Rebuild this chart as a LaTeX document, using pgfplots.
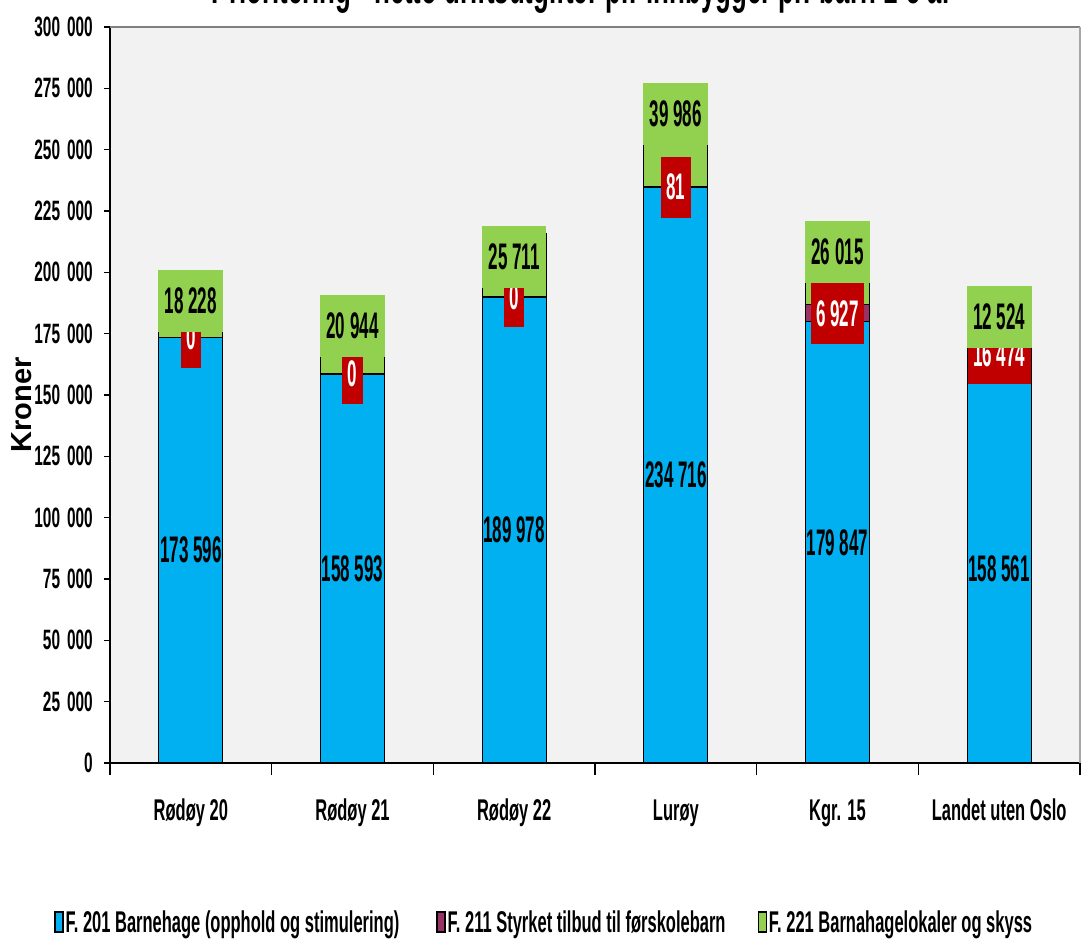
\documentclass[border=0pt]{standalone}
\usepackage{fontspec}
\usepackage{pgfplots}
\usepackage{pgfplotstable}
\pgfplotsset{compat=1.18}
\setmainfont{Liberation Sans}
\newfontfamily\condfont[FakeStretch=0.55]{Liberation Sans}
\newfontfamily\labfont[FakeStretch=0.46]{Liberation Sans}
\definecolor{cblue}{HTML}{00B0F0}
\definecolor{cpurp}{HTML}{993366}
\definecolor{cgreen}{HTML}{92D050}
\definecolor{cred}{HTML}{C00000}
\definecolor{bgc}{HTML}{F2F2F2}
\tikzset{
  bluelab/.style={font=\fontsize{37bp}{38bp}\labfont\bfseries, inner sep=0pt},
  redlab/.style={font=\fontsize{37bp}{38bp}\labfont\bfseries, text=white, fill=cred, inner xsep=5.5bp, inner ysep=0pt, minimum height=61bp},
  greenlab/.style={font=\fontsize{37bp}{38bp}\labfont\bfseries, text=black, fill=cgreen, inner xsep=6.5bp, inner ysep=0pt, minimum height=62bp},
}
\pgfplotsset{
  boxlegend/.style={legend image code/.code={\draw[##1, draw=black, line width=1.4bp] (0bp,-10bp) rectangle (8bp,10bp);}},
}
\pgfplotstableread{
x blue purple green
0 173596 0 18228
1 158593 0 20944
2 189978 0 25711
3 234716 81 39986
4 179847 6927 26015
5 158561 16474 12524
}\datatable
\begin{document}
\begin{tikzpicture}
\useasboundingbox (0,0) rectangle (1088bp,945bp);
\node[anchor=base, font=\fontsize{47bp}{48bp}\condfont\bfseries] at (582bp,941bp) {Prioritering - netto driftsutgifter pr. innbygger pr. barn 1-5 år};
\begin{axis}[
  at={(110bp,182bp)}, anchor=south west,
  scale only axis, width=970bp, height=736bp,
  ybar stacked, bar width=64bp,
  xmin=-0.5, xmax=5.5, ymin=0, ymax=300000,
  clip=false,
  scaled y ticks=false,
  axis background/.style={fill=bgc},
  axis x line*=bottom, axis y line*=left,
  axis line style={black, line width=1.6bp},
  tick align=outside,
  major tick length=6bp,
  tick style={black, line width=1.2bp},
  ytick={0,25000,50000,75000,100000,125000,150000,175000,200000,225000,250000,275000,300000},
  yticklabels={0,25\hspace{7bp}000,50\hspace{7bp}000,75\hspace{7bp}000,100\hspace{7bp}000,125\hspace{7bp}000,150\hspace{7bp}000,175\hspace{7bp}000,200\hspace{7bp}000,225\hspace{7bp}000,250\hspace{7bp}000,275\hspace{7bp}000,300\hspace{7bp}000},
  yticklabel style={font=\fontsize{28bp}{30bp}\condfont\bfseries, anchor=east, inner sep=0pt, xshift=-11bp},
  xtick={0,1,2,3,4,5},
  xticklabels={Rødøy 20,Rødøy 21,Rødøy 22,Lurøy,Kgr. 15,Landet uten Oslo},
  xtick style={draw=none},
  xticklabel style={font=\fontsize{30bp}{32bp}\condfont\bfseries, anchor=base, inner sep=0pt, yshift=-51bp},
  extra x ticks={-0.5,0.5,1.5,2.5,3.5,4.5,5.5},
  extra x tick labels={},
  extra x tick style={major tick length=12bp, xtick style={draw=black}},
  boxlegend,
  legend style={at={(-0.0577,-0.216)}, anchor=west, draw=none, fill=none, inner sep=0pt,
    legend columns=3, font=\fontsize{30bp}{32bp}\condfont\bfseries,
    /tikz/column 2/.style={column sep=35bp},
    /tikz/column 4/.style={column sep=30bp}},
]
\addplot[fill=cblue, draw=black, line width=1.2bp] table[x=x, y=blue] {\datatable};
\addlegendentry{F. 201 Barnehage (opphold og stimulering)}
\addplot[fill=cpurp, draw=black, line width=1.2bp] table[x=x, y=purple] {\datatable};
\addlegendentry{F. 211 Styrket tilbud til førskolebarn}
\addplot[fill=cgreen, draw=black, line width=1.2bp] table[x=x, y=green] {\datatable};
\addlegendentry{F. 221 Barnahagelokaler og skyss}
\coordinate (TL) at (rel axis cs:0,1);
\coordinate (TR) at (rel axis cs:1,1);
\coordinate (BR) at (rel axis cs:1,0);
\coordinate (b0) at (axis cs:0,86798);
\coordinate (b1) at (axis cs:1,79296);
\coordinate (b2) at (axis cs:2,94989);
\coordinate (b3) at (axis cs:3,117358);
\coordinate (b4) at (axis cs:4,89924);
\coordinate (b5) at (axis cs:5,79280);
\coordinate (r0) at (axis cs:0,173596);
\coordinate (r1) at (axis cs:1,158593);
\coordinate (r2) at (axis cs:2,189978);
\coordinate (r3) at (axis cs:3,234756);
\coordinate (r4) at (axis cs:4,183310);
\coordinate (r5) at (axis cs:5,166798);
\coordinate (g0) at (axis cs:0,188315);
\coordinate (g1) at (axis cs:1,178125);
\coordinate (g2) at (axis cs:2,206250);
\coordinate (g3) at (axis cs:3,264538);
\coordinate (g4) at (axis cs:4,208288);
\coordinate (g5) at (axis cs:5,181793);
\end{axis}
\draw[gray, line width=2.5bp] (TL) -- (TR);
\draw[gray!70, line width=1.2bp] (TR) -- (BR);
\node[bluelab] at (b0) {173 596};
\node[bluelab] at (b1) {158 593};
\node[bluelab] at (b2) {189 978};
\node[bluelab] at (b3) {234 716};
\node[bluelab] at (b4) {179 847};
\node[bluelab] at (b5) {158 561};
\node[redlab] at (r0) {0};
\node[redlab] at (r1) {0};
\node[redlab] at (r2) {0};
\node[redlab] at (r3) {81};
\node[redlab] at (r4) {6 927};
\node[redlab] at (r5) {16 474};
\node[greenlab] at (g0) {18 228};
\node[greenlab] at (g1) {20 944};
\node[greenlab] at (g2) {25 711};
\node[greenlab] at (g3) {39 986};
\node[greenlab] at (g4) {26 015};
\node[greenlab] at (g5) {12 524};
\node[rotate=90, font=\fontsize{29bp}{30bp}\bfseries] at (22bp,540bp) {Kroner};
\end{tikzpicture}
\end{document}
